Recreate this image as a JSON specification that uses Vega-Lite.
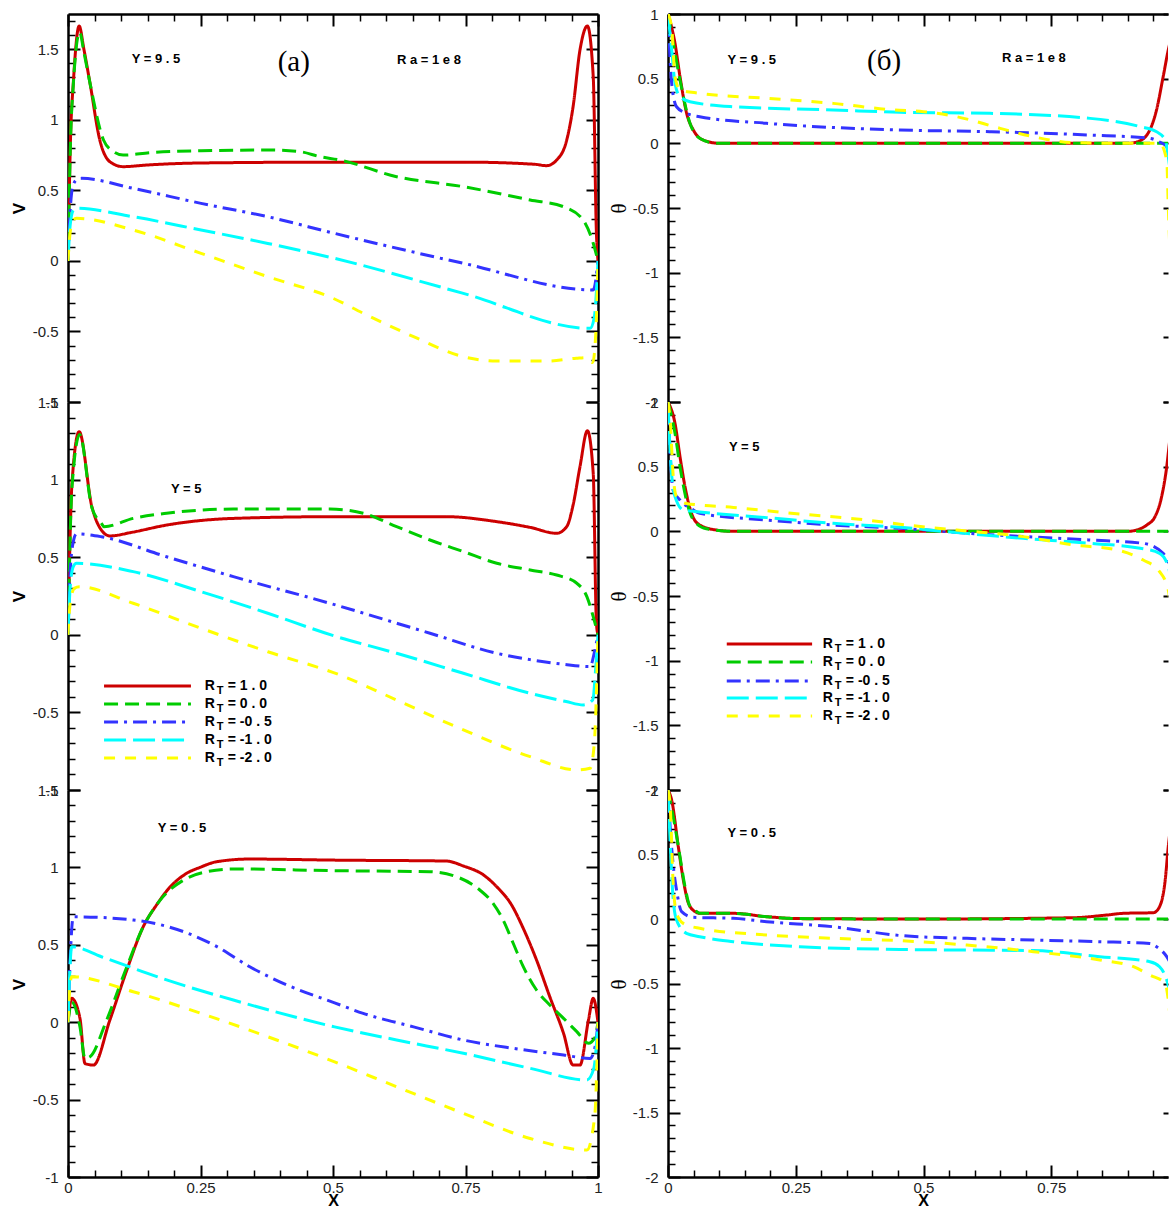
{
"$schema": "https://vega.github.io/schema/vega-lite/v6.json",
"padding": {"left": 10, "top": 7, "right": 0, "bottom": 0},
"autosize": {"type": "pad"},
"background": "white",
"config": {
  "view": {"stroke": null},
  "axis": {"grid": false, "domainColor": "#000", "domainWidth": 2.5, "tickColor": "#000", "labelFont": "Liberation Sans", "labelFontSize": 15, "labelColor": "#222", "titleFont": "Liberation Sans", "titleFontSize": 17, "titleFontWeight": "bold", "titleColor": "#000", "labelOverlap": false, "labelBound": false, "labelFlush": false},
  "text": {"color": "#000"}
},
"datasets": {
"notes": [
{"p":"a1","k":"tag","x":0.166,"y":1.434,"t":"Y = 9 . 5"},
{"p":"a1","k":"tag","x":0.681,"y":1.424,"t":"R a = 1 e 8"},
{"p":"a1","k":"serif","x":0.426,"y":1.413,"t":"(a)"},
{"p":"a2","k":"tag","x":0.223,"y":0.939,"t":"Y = 5"},
{"p":"a3","k":"tag","x":0.215,"y":1.255,"t":"Y = 0 . 5"},
{"p":"b1","k":"tag","x":0.164,"y":0.644,"t":"Y = 9 . 5"},
{"p":"b1","k":"tag","x":0.716,"y":0.66,"t":"R a = 1 e 8"},
{"p":"b1","k":"serif","x":0.423,"y":0.637,"t":"(б)"},
{"p":"b2","k":"tag","x":0.149,"y":0.652,"t":"Y = 5"},
{"p":"b3","k":"tag","x":0.164,"y":0.667,"t":"Y = 0 . 5"}
],
"leg": [
{"p":"a2","s":"1.0","x":0.068,"x2":0.232,"tx":0.258,"y":-0.33,"v":"= 1 . 0"},
{"p":"a2","s":"0.0","x":0.068,"x2":0.232,"tx":0.258,"y":-0.446,"v":"= 0 . 0"},
{"p":"a2","s":"-0.5","x":0.068,"x2":0.232,"tx":0.258,"y":-0.562,"v":"= -0 . 5"},
{"p":"a2","s":"-1.0","x":0.068,"x2":0.232,"tx":0.258,"y":-0.678,"v":"= -1 . 0"},
{"p":"a2","s":"-2.0","x":0.068,"x2":0.232,"tx":0.258,"y":-0.794,"v":"= -2 . 0"},
{"p":"b2","s":"1.0","x":0.115,"x2":0.282,"tx":0.303,"y":-0.871,"v":"= 1 . 0"},
{"p":"b2","s":"0.0","x":0.115,"x2":0.282,"tx":0.303,"y":-1.01,"v":"= 0 . 0"},
{"p":"b2","s":"-0.5","x":0.115,"x2":0.282,"tx":0.303,"y":-1.157,"v":"= -0 . 5"},
{"p":"b2","s":"-1.0","x":0.115,"x2":0.282,"tx":0.303,"y":-1.289,"v":"= -1 . 0"},
{"p":"b2","s":"-2.0","x":0.115,"x2":0.282,"tx":0.303,"y":-1.428,"v":"= -2 . 0"}
],
"curves": [
{"p":"a1","s":"1.0","x":0,"y":0},{"p":"a1","s":"1.0","x":0.005,"y":0.9},{"p":"a1","s":"1.0","x":0.01,"y":1.26},{"p":"a1","s":"1.0","x":0.021,"y":1.665},{"p":"a1","s":"1.0","x":0.03,"y":1.5},{"p":"a1","s":"1.0","x":0.0415,"y":1.26},{"p":"a1","s":"1.0","x":0.06,"y":0.857},{"p":"a1","s":"1.0","x":0.079,"y":0.703},{"p":"a1","s":"1.0","x":0.104,"y":0.668},{"p":"a1","s":"1.0","x":0.15,"y":0.68},{"p":"a1","s":"1.0","x":0.249,"y":0.694},{"p":"a1","s":"1.0","x":0.5,"y":0.7},{"p":"a1","s":"1.0","x":0.75,"y":0.7},{"p":"a1","s":"1.0","x":0.88,"y":0.685},{"p":"a1","s":"1.0","x":0.903,"y":0.675},{"p":"a1","s":"1.0","x":0.922,"y":0.715},{"p":"a1","s":"1.0","x":0.941,"y":0.857},{"p":"a1","s":"1.0","x":0.953,"y":1.093},{"p":"a1","s":"1.0","x":0.966,"y":1.495},{"p":"a1","s":"1.0","x":0.98,"y":1.665},{"p":"a1","s":"1.0","x":0.991,"y":1.306},{"p":"a1","s":"1.0","x":0.997,"y":0.2},{"p":"a1","s":"1.0","x":1,"y":0},
{"p":"a1","s":"0.0","x":0,"y":0},{"p":"a1","s":"0.0","x":0.005,"y":0.88},{"p":"a1","s":"0.0","x":0.01,"y":1.25},{"p":"a1","s":"0.0","x":0.022,"y":1.62},{"p":"a1","s":"0.0","x":0.03,"y":1.48},{"p":"a1","s":"0.0","x":0.0415,"y":1.26},{"p":"a1","s":"0.0","x":0.067,"y":0.857},{"p":"a1","s":"0.0","x":0.086,"y":0.774},{"p":"a1","s":"0.0","x":0.104,"y":0.75},{"p":"a1","s":"0.0","x":0.155,"y":0.767},{"p":"a1","s":"0.0","x":0.251,"y":0.781},{"p":"a1","s":"0.0","x":0.375,"y":0.786},{"p":"a1","s":"0.0","x":0.438,"y":0.774},{"p":"a1","s":"0.0","x":0.475,"y":0.739},{"p":"a1","s":"0.0","x":0.513,"y":0.715},{"p":"a1","s":"0.0","x":0.62,"y":0.597},{"p":"a1","s":"0.0","x":0.746,"y":0.526},{"p":"a1","s":"0.0","x":0.872,"y":0.432},{"p":"a1","s":"0.0","x":0.935,"y":0.384},{"p":"a1","s":"0.0","x":0.972,"y":0.29},{"p":"a1","s":"0.0","x":0.991,"y":0.125},{"p":"a1","s":"0.0","x":1,"y":0},
{"p":"a1","s":"-0.5","x":0,"y":0},{"p":"a1","s":"-0.5","x":0.004,"y":0.35},{"p":"a1","s":"-0.5","x":0.01,"y":0.54},{"p":"a1","s":"-0.5","x":0.018,"y":0.58},{"p":"a1","s":"-0.5","x":0.0255,"y":0.585},{"p":"a1","s":"-0.5","x":0.123,"y":0.514},{"p":"a1","s":"-0.5","x":0.251,"y":0.408},{"p":"a1","s":"-0.5","x":0.377,"y":0.313},{"p":"a1","s":"-0.5","x":0.503,"y":0.195},{"p":"a1","s":"-0.5","x":0.746,"y":-0.017},{"p":"a1","s":"-0.5","x":0.991,"y":-0.206},{"p":"a1","s":"-0.5","x":1,"y":0},
{"p":"a1","s":"-1.0","x":0,"y":0},{"p":"a1","s":"-1.0","x":0.004,"y":0.25},{"p":"a1","s":"-1.0","x":0.01,"y":0.36},{"p":"a1","s":"-1.0","x":0.016,"y":0.373},{"p":"a1","s":"-1.0","x":0.123,"y":0.313},{"p":"a1","s":"-1.0","x":0.251,"y":0.219},{"p":"a1","s":"-1.0","x":0.377,"y":0.124},{"p":"a1","s":"-1.0","x":0.503,"y":0.018},{"p":"a1","s":"-1.0","x":0.746,"y":-0.23},{"p":"a1","s":"-1.0","x":0.985,"y":-0.478},{"p":"a1","s":"-1.0","x":0.993,"y":-0.4},{"p":"a1","s":"-1.0","x":1,"y":0},
{"p":"a1","s":"-2.0","x":0,"y":0},{"p":"a1","s":"-2.0","x":0.004,"y":0.2},{"p":"a1","s":"-2.0","x":0.01,"y":0.29},{"p":"a1","s":"-2.0","x":0.016,"y":0.302},{"p":"a1","s":"-2.0","x":0.123,"y":0.219},{"p":"a1","s":"-2.0","x":0.251,"y":0.054},{"p":"a1","s":"-2.0","x":0.377,"y":-0.112},{"p":"a1","s":"-2.0","x":0.503,"y":-0.27},{"p":"a1","s":"-2.0","x":0.557,"y":-0.371},{"p":"a1","s":"-2.0","x":0.652,"y":-0.537},{"p":"a1","s":"-2.0","x":0.746,"y":-0.679},{"p":"a1","s":"-2.0","x":0.809,"y":-0.71},{"p":"a1","s":"-2.0","x":0.903,"y":-0.71},{"p":"a1","s":"-2.0","x":0.959,"y":-0.69},{"p":"a1","s":"-2.0","x":0.978,"y":-0.685},{"p":"a1","s":"-2.0","x":0.99,"y":-0.72},{"p":"a1","s":"-2.0","x":0.996,"y":-0.5},{"p":"a1","s":"-2.0","x":1,"y":0},

{"p":"a2","s":"1.0","x":0,"y":0},{"p":"a2","s":"1.0","x":0.0075,"y":0.976},{"p":"a2","s":"1.0","x":0.021,"y":1.309},{"p":"a2","s":"1.0","x":0.045,"y":0.826},{"p":"a2","s":"1.0","x":0.063,"y":0.675},{"p":"a2","s":"1.0","x":0.079,"y":0.637},{"p":"a2","s":"1.0","x":0.12,"y":0.66},{"p":"a2","s":"1.0","x":0.186,"y":0.707},{"p":"a2","s":"1.0","x":0.312,"y":0.75},{"p":"a2","s":"1.0","x":0.503,"y":0.761},{"p":"a2","s":"1.0","x":0.714,"y":0.761},{"p":"a2","s":"1.0","x":0.809,"y":0.729},{"p":"a2","s":"1.0","x":0.872,"y":0.692},{"p":"a2","s":"1.0","x":0.922,"y":0.654},{"p":"a2","s":"1.0","x":0.941,"y":0.697},{"p":"a2","s":"1.0","x":0.953,"y":0.836},{"p":"a2","s":"1.0","x":0.966,"y":1.083},{"p":"a2","s":"1.0","x":0.98,"y":1.315},{"p":"a2","s":"1.0","x":0.991,"y":1.04},{"p":"a2","s":"1.0","x":0.997,"y":0.076},{"p":"a2","s":"1.0","x":1,"y":0},
{"p":"a2","s":"0.0","x":0,"y":0},{"p":"a2","s":"0.0","x":0.0075,"y":0.95},{"p":"a2","s":"0.0","x":0.022,"y":1.29},{"p":"a2","s":"0.0","x":0.045,"y":0.82},{"p":"a2","s":"0.0","x":0.063,"y":0.718},{"p":"a2","s":"0.0","x":0.068,"y":0.697},{"p":"a2","s":"0.0","x":0.123,"y":0.75},{"p":"a2","s":"0.0","x":0.186,"y":0.783},{"p":"a2","s":"0.0","x":0.312,"y":0.81},{"p":"a2","s":"0.0","x":0.494,"y":0.81},{"p":"a2","s":"0.0","x":0.557,"y":0.783},{"p":"a2","s":"0.0","x":0.62,"y":0.697},{"p":"a2","s":"0.0","x":0.683,"y":0.611},{"p":"a2","s":"0.0","x":0.746,"y":0.536},{"p":"a2","s":"0.0","x":0.809,"y":0.461},{"p":"a2","s":"0.0","x":0.872,"y":0.418},{"p":"a2","s":"0.0","x":0.922,"y":0.385},{"p":"a2","s":"0.0","x":0.96,"y":0.332},{"p":"a2","s":"0.0","x":0.979,"y":0.246},{"p":"a2","s":"0.0","x":0.991,"y":0.117},{"p":"a2","s":"0.0","x":1,"y":0},
{"p":"a2","s":"-0.5","x":0,"y":0},{"p":"a2","s":"-0.5","x":0.004,"y":0.4},{"p":"a2","s":"-0.5","x":0.01,"y":0.6},{"p":"a2","s":"-0.5","x":0.016,"y":0.65},{"p":"a2","s":"-0.5","x":0.063,"y":0.632},{"p":"a2","s":"-0.5","x":0.186,"y":0.503},{"p":"a2","s":"-0.5","x":0.312,"y":0.375},{"p":"a2","s":"-0.5","x":0.494,"y":0.203},{"p":"a2","s":"-0.5","x":0.683,"y":0.01},{"p":"a2","s":"-0.5","x":0.809,"y":-0.119},{"p":"a2","s":"-0.5","x":0.872,"y":-0.16},{"p":"a2","s":"-0.5","x":0.935,"y":-0.19},{"p":"a2","s":"-0.5","x":0.985,"y":-0.205},{"p":"a2","s":"-0.5","x":0.994,"y":-0.1},{"p":"a2","s":"-0.5","x":1,"y":0},
{"p":"a2","s":"-1.0","x":0,"y":0},{"p":"a2","s":"-1.0","x":0.004,"y":0.3},{"p":"a2","s":"-1.0","x":0.01,"y":0.44},{"p":"a2","s":"-1.0","x":0.016,"y":0.461},{"p":"a2","s":"-1.0","x":0.123,"y":0.407},{"p":"a2","s":"-1.0","x":0.251,"y":0.278},{"p":"a2","s":"-1.0","x":0.377,"y":0.139},{"p":"a2","s":"-1.0","x":0.503,"y":-0.008},{"p":"a2","s":"-1.0","x":0.62,"y":-0.119},{"p":"a2","s":"-1.0","x":0.746,"y":-0.248},{"p":"a2","s":"-1.0","x":0.872,"y":-0.377},{"p":"a2","s":"-1.0","x":0.94,"y":-0.43},{"p":"a2","s":"-1.0","x":0.972,"y":-0.452},{"p":"a2","s":"-1.0","x":0.99,"y":-0.42},{"p":"a2","s":"-1.0","x":0.996,"y":-0.2},{"p":"a2","s":"-1.0","x":1,"y":0},
{"p":"a2","s":"-2.0","x":0,"y":0},{"p":"a2","s":"-2.0","x":0.004,"y":0.2},{"p":"a2","s":"-2.0","x":0.012,"y":0.3},{"p":"a2","s":"-2.0","x":0.0214,"y":0.31},{"p":"a2","s":"-2.0","x":0.123,"y":0.203},{"p":"a2","s":"-2.0","x":0.251,"y":0.042},{"p":"a2","s":"-2.0","x":0.377,"y":-0.109},{"p":"a2","s":"-2.0","x":0.513,"y":-0.259},{"p":"a2","s":"-2.0","x":0.62,"y":-0.42},{"p":"a2","s":"-2.0","x":0.746,"y":-0.613},{"p":"a2","s":"-2.0","x":0.872,"y":-0.785},{"p":"a2","s":"-2.0","x":0.96,"y":-0.871},{"p":"a2","s":"-2.0","x":0.985,"y":-0.86},{"p":"a2","s":"-2.0","x":0.993,"y":-0.7},{"p":"a2","s":"-2.0","x":1,"y":0},

{"p":"a3","s":"1.0","x":0,"y":0},{"p":"a3","s":"1.0","x":0.007,"y":0.154},{"p":"a3","s":"1.0","x":0.0226,"y":0.024},{"p":"a3","s":"1.0","x":0.032,"y":-0.267},{"p":"a3","s":"1.0","x":0.048,"y":-0.277},{"p":"a3","s":"1.0","x":0.079,"y":0.014},{"p":"a3","s":"1.0","x":0.111,"y":0.337},{"p":"a3","s":"1.0","x":0.142,"y":0.617},{"p":"a3","s":"1.0","x":0.167,"y":0.757},{"p":"a3","s":"1.0","x":0.192,"y":0.871},{"p":"a3","s":"1.0","x":0.224,"y":0.962},{"p":"a3","s":"1.0","x":0.249,"y":1.0},{"p":"a3","s":"1.0","x":0.281,"y":1.037},{"p":"a3","s":"1.0","x":0.343,"y":1.054},{"p":"a3","s":"1.0","x":0.503,"y":1.047},{"p":"a3","s":"1.0","x":0.714,"y":1.041},{"p":"a3","s":"1.0","x":0.746,"y":1.009},{"p":"a3","s":"1.0","x":0.784,"y":0.951},{"p":"a3","s":"1.0","x":0.809,"y":0.875},{"p":"a3","s":"1.0","x":0.837,"y":0.757},{"p":"a3","s":"1.0","x":0.859,"y":0.606},{"p":"a3","s":"1.0","x":0.884,"y":0.402},{"p":"a3","s":"1.0","x":0.909,"y":0.165},{"p":"a3","s":"1.0","x":0.935,"y":-0.072},{"p":"a3","s":"1.0","x":0.953,"y":-0.277},{"p":"a3","s":"1.0","x":0.966,"y":-0.277},{"p":"a3","s":"1.0","x":0.982,"y":0.014},{"p":"a3","s":"1.0","x":0.991,"y":0.154},{"p":"a3","s":"1.0","x":1,"y":0},
{"p":"a3","s":"0.0","x":0,"y":0},{"p":"a3","s":"0.0","x":0.007,"y":0.13},{"p":"a3","s":"0.0","x":0.0226,"y":-0.03},{"p":"a3","s":"0.0","x":0.032,"y":-0.234},{"p":"a3","s":"0.0","x":0.0415,"y":-0.223},{"p":"a3","s":"0.0","x":0.073,"y":0.014},{"p":"a3","s":"0.0","x":0.111,"y":0.358},{"p":"a3","s":"0.0","x":0.142,"y":0.617},{"p":"a3","s":"0.0","x":0.174,"y":0.789},{"p":"a3","s":"0.0","x":0.218,"y":0.918},{"p":"a3","s":"0.0","x":0.262,"y":0.972},{"p":"a3","s":"0.0","x":0.312,"y":0.99},{"p":"a3","s":"0.0","x":0.503,"y":0.979},{"p":"a3","s":"0.0","x":0.683,"y":0.972},{"p":"a3","s":"0.0","x":0.733,"y":0.94},{"p":"a3","s":"0.0","x":0.777,"y":0.854},{"p":"a3","s":"0.0","x":0.802,"y":0.768},{"p":"a3","s":"0.0","x":0.821,"y":0.66},{"p":"a3","s":"0.0","x":0.84,"y":0.51},{"p":"a3","s":"0.0","x":0.859,"y":0.359},{"p":"a3","s":"0.0","x":0.884,"y":0.208},{"p":"a3","s":"0.0","x":0.909,"y":0.111},{"p":"a3","s":"0.0","x":0.935,"y":0.025},{"p":"a3","s":"0.0","x":0.96,"y":-0.061},{"p":"a3","s":"0.0","x":0.982,"y":-0.136},{"p":"a3","s":"0.0","x":0.994,"y":-0.1},{"p":"a3","s":"0.0","x":1,"y":0},
{"p":"a3","s":"-0.5","x":0,"y":0},{"p":"a3","s":"-0.5","x":0.004,"y":0.4},{"p":"a3","s":"-0.5","x":0.01,"y":0.681},{"p":"a3","s":"-0.5","x":0.123,"y":0.66},{"p":"a3","s":"-0.5","x":0.218,"y":0.585},{"p":"a3","s":"-0.5","x":0.281,"y":0.488},{"p":"a3","s":"-0.5","x":0.343,"y":0.358},{"p":"a3","s":"-0.5","x":0.406,"y":0.251},{"p":"a3","s":"-0.5","x":0.503,"y":0.125},{"p":"a3","s":"-0.5","x":0.557,"y":0.057},{"p":"a3","s":"-0.5","x":0.652,"y":-0.03},{"p":"a3","s":"-0.5","x":0.746,"y":-0.115},{"p":"a3","s":"-0.5","x":0.84,"y":-0.169},{"p":"a3","s":"-0.5","x":0.935,"y":-0.212},{"p":"a3","s":"-0.5","x":0.985,"y":-0.234},{"p":"a3","s":"-0.5","x":0.995,"y":-0.15},{"p":"a3","s":"-0.5","x":1,"y":0},
{"p":"a3","s":"-1.0","x":0,"y":0},{"p":"a3","s":"-1.0","x":0.003,"y":0.3},{"p":"a3","s":"-1.0","x":0.007,"y":0.488},{"p":"a3","s":"-1.0","x":0.063,"y":0.423},{"p":"a3","s":"-1.0","x":0.186,"y":0.273},{"p":"a3","s":"-1.0","x":0.312,"y":0.143},{"p":"a3","s":"-1.0","x":0.503,"y":-0.03},{"p":"a3","s":"-1.0","x":0.62,"y":-0.115},{"p":"a3","s":"-1.0","x":0.746,"y":-0.201},{"p":"a3","s":"-1.0","x":0.872,"y":-0.298},{"p":"a3","s":"-1.0","x":0.979,"y":-0.373},{"p":"a3","s":"-1.0","x":0.992,"y":-0.3},{"p":"a3","s":"-1.0","x":1,"y":0},
{"p":"a3","s":"-2.0","x":0,"y":0},{"p":"a3","s":"-2.0","x":0.003,"y":0.2},{"p":"a3","s":"-2.0","x":0.007,"y":0.294},{"p":"a3","s":"-2.0","x":0.123,"y":0.197},{"p":"a3","s":"-2.0","x":0.251,"y":0.057},{"p":"a3","s":"-2.0","x":0.377,"y":-0.094},{"p":"a3","s":"-2.0","x":0.503,"y":-0.256},{"p":"a3","s":"-2.0","x":0.62,"y":-0.417},{"p":"a3","s":"-2.0","x":0.746,"y":-0.589},{"p":"a3","s":"-2.0","x":0.872,"y":-0.751},{"p":"a3","s":"-2.0","x":0.979,"y":-0.826},{"p":"a3","s":"-2.0","x":0.994,"y":-0.6},{"p":"a3","s":"-2.0","x":1,"y":0},

{"p":"b1","s":"1.0","x":0,"y":1},{"p":"b1","s":"1.0","x":0.0137,"y":0.773},{"p":"b1","s":"1.0","x":0.0235,"y":0.515},{"p":"b1","s":"1.0","x":0.0365,"y":0.232},{"p":"b1","s":"1.0","x":0.0496,"y":0.103},{"p":"b1","s":"1.0","x":0.0685,"y":0.026},{"p":"b1","s":"1.0","x":0.101,"y":0},{"p":"b1","s":"1.0","x":0.5,"y":0},{"p":"b1","s":"1.0","x":0.9,"y":0},{"p":"b1","s":"1.0","x":0.917,"y":0.01},{"p":"b1","s":"1.0","x":0.937,"y":0.064},{"p":"b1","s":"1.0","x":0.956,"y":0.258},{"p":"b1","s":"1.0","x":0.969,"y":0.515},{"p":"b1","s":"1.0","x":0.979,"y":0.722},{"p":"b1","s":"1.0","x":1,"y":1},
{"p":"b1","s":"0.0","x":0,"y":1},{"p":"b1","s":"0.0","x":0.01,"y":0.78},{"p":"b1","s":"0.0","x":0.0235,"y":0.49},{"p":"b1","s":"0.0","x":0.043,"y":0.155},{"p":"b1","s":"0.0","x":0.062,"y":0.04},{"p":"b1","s":"0.0","x":0.095,"y":0},{"p":"b1","s":"0.0","x":0.5,"y":0},{"p":"b1","s":"0.0","x":1,"y":0},
{"p":"b1","s":"-0.5","x":0,"y":1},{"p":"b1","s":"-0.5","x":0.0072,"y":0.464},{"p":"b1","s":"-0.5","x":0.0167,"y":0.283},{"p":"b1","s":"-0.5","x":0.036,"y":0.232},{"p":"b1","s":"-0.5","x":0.062,"y":0.206},{"p":"b1","s":"-0.5","x":0.193,"y":0.155},{"p":"b1","s":"-0.5","x":0.454,"y":0.103},{"p":"b1","s":"-0.5","x":0.63,"y":0.09},{"p":"b1","s":"-0.5","x":0.826,"y":0.064},{"p":"b1","s":"-0.5","x":0.943,"y":0.039},{"p":"b1","s":"-0.5","x":0.962,"y":0.01},{"p":"b1","s":"-0.5","x":0.975,"y":-0.02},{"p":"b1","s":"-0.5","x":1,"y":-0.5},
{"p":"b1","s":"-1.0","x":0,"y":1},{"p":"b1","s":"-1.0","x":0.0072,"y":0.722},{"p":"b1","s":"-1.0","x":0.0137,"y":0.464},{"p":"b1","s":"-1.0","x":0.0235,"y":0.36},{"p":"b1","s":"-1.0","x":0.043,"y":0.322},{"p":"b1","s":"-1.0","x":0.128,"y":0.283},{"p":"b1","s":"-1.0","x":0.323,"y":0.258},{"p":"b1","s":"-1.0","x":0.454,"y":0.24},{"p":"b1","s":"-1.0","x":0.63,"y":0.232},{"p":"b1","s":"-1.0","x":0.826,"y":0.193},{"p":"b1","s":"-1.0","x":0.924,"y":0.129},{"p":"b1","s":"-1.0","x":0.956,"y":0.09},{"p":"b1","s":"-1.0","x":0.973,"y":0.026},{"p":"b1","s":"-1.0","x":0.979,"y":-0.103},{"p":"b1","s":"-1.0","x":1,"y":-1},
{"p":"b1","s":"-2.0","x":0,"y":1},{"p":"b1","s":"-2.0","x":0.007,"y":0.9},{"p":"b1","s":"-2.0","x":0.0137,"y":0.515},{"p":"b1","s":"-2.0","x":0.0235,"y":0.412},{"p":"b1","s":"-2.0","x":0.062,"y":0.387},{"p":"b1","s":"-2.0","x":0.193,"y":0.348},{"p":"b1","s":"-2.0","x":0.323,"y":0.309},{"p":"b1","s":"-2.0","x":0.441,"y":0.258},{"p":"b1","s":"-2.0","x":0.5,"y":0.245},{"p":"b1","s":"-2.0","x":0.565,"y":0.206},{"p":"b1","s":"-2.0","x":0.65,"y":0.116},{"p":"b1","s":"-2.0","x":0.715,"y":0.051},{"p":"b1","s":"-2.0","x":0.793,"y":0.005},{"p":"b1","s":"-2.0","x":0.89,"y":0},{"p":"b1","s":"-2.0","x":0.962,"y":0},{"p":"b1","s":"-2.0","x":0.976,"y":-0.129},{"p":"b1","s":"-2.0","x":0.979,"y":-0.49},{"p":"b1","s":"-2.0","x":1,"y":-2},

{"p":"b2","s":"1.0","x":0,"y":1},{"p":"b2","s":"1.0","x":0.0137,"y":0.835},{"p":"b2","s":"1.0","x":0.0235,"y":0.577},{"p":"b2","s":"1.0","x":0.0333,"y":0.345},{"p":"b2","s":"1.0","x":0.046,"y":0.139},{"p":"b2","s":"1.0","x":0.062,"y":0.049},{"p":"b2","s":"1.0","x":0.095,"y":0.01},{"p":"b2","s":"1.0","x":0.128,"y":0},{"p":"b2","s":"1.0","x":0.5,"y":0},{"p":"b2","s":"1.0","x":0.9,"y":0},{"p":"b2","s":"1.0","x":0.917,"y":0.01},{"p":"b2","s":"1.0","x":0.937,"y":0.049},{"p":"b2","s":"1.0","x":0.953,"y":0.113},{"p":"b2","s":"1.0","x":0.966,"y":0.268},{"p":"b2","s":"1.0","x":0.976,"y":0.5},{"p":"b2","s":"1.0","x":0.982,"y":0.706},{"p":"b2","s":"1.0","x":1,"y":1},
{"p":"b2","s":"0.0","x":0,"y":1},{"p":"b2","s":"0.0","x":0.0137,"y":0.758},{"p":"b2","s":"0.0","x":0.0235,"y":0.5},{"p":"b2","s":"0.0","x":0.036,"y":0.242},{"p":"b2","s":"0.0","x":0.0496,"y":0.088},{"p":"b2","s":"0.0","x":0.075,"y":0.02},{"p":"b2","s":"0.0","x":0.128,"y":0},{"p":"b2","s":"0.0","x":0.5,"y":0},{"p":"b2","s":"0.0","x":1,"y":0},
{"p":"b2","s":"-0.5","x":0,"y":1},{"p":"b2","s":"-0.5","x":0.0046,"y":0.577},{"p":"b2","s":"-0.5","x":0.0098,"y":0.32},{"p":"b2","s":"-0.5","x":0.0235,"y":0.242},{"p":"b2","s":"-0.5","x":0.0496,"y":0.165},{"p":"b2","s":"-0.5","x":0.062,"y":0.139},{"p":"b2","s":"-0.5","x":0.193,"y":0.088},{"p":"b2","s":"-0.5","x":0.323,"y":0.049},{"p":"b2","s":"-0.5","x":0.454,"y":0.023},{"p":"b2","s":"-0.5","x":0.63,"y":-0.026},{"p":"b2","s":"-0.5","x":0.826,"y":-0.067},{"p":"b2","s":"-0.5","x":0.93,"y":-0.093},{"p":"b2","s":"-0.5","x":0.969,"y":-0.17},{"p":"b2","s":"-0.5","x":1,"y":-0.5},
{"p":"b2","s":"-1.0","x":0,"y":1},{"p":"b2","s":"-1.0","x":0.0046,"y":0.58},{"p":"b2","s":"-1.0","x":0.0137,"y":0.268},{"p":"b2","s":"-1.0","x":0.03,"y":0.165},{"p":"b2","s":"-1.0","x":0.062,"y":0.15},{"p":"b2","s":"-1.0","x":0.193,"y":0.106},{"p":"b2","s":"-1.0","x":0.323,"y":0.062},{"p":"b2","s":"-1.0","x":0.454,"y":0.031},{"p":"b2","s":"-1.0","x":0.565,"y":-0.01},{"p":"b2","s":"-1.0","x":0.695,"y":-0.054},{"p":"b2","s":"-1.0","x":0.826,"y":-0.093},{"p":"b2","s":"-1.0","x":0.924,"y":-0.131},{"p":"b2","s":"-1.0","x":0.962,"y":-0.17},{"p":"b2","s":"-1.0","x":0.979,"y":-0.273},{"p":"b2","s":"-1.0","x":1,"y":-1},
{"p":"b2","s":"-2.0","x":0,"y":1},{"p":"b2","s":"-2.0","x":0.0046,"y":0.835},{"p":"b2","s":"-2.0","x":0.0098,"y":0.449},{"p":"b2","s":"-2.0","x":0.0167,"y":0.268},{"p":"b2","s":"-2.0","x":0.036,"y":0.216},{"p":"b2","s":"-2.0","x":0.128,"y":0.185},{"p":"b2","s":"-2.0","x":0.258,"y":0.134},{"p":"b2","s":"-2.0","x":0.388,"y":0.088},{"p":"b2","s":"-2.0","x":0.454,"y":0.055},{"p":"b2","s":"-2.0","x":0.565,"y":0.01},{"p":"b2","s":"-2.0","x":0.695,"y":-0.041},{"p":"b2","s":"-2.0","x":0.793,"y":-0.105},{"p":"b2","s":"-2.0","x":0.878,"y":-0.144},{"p":"b2","s":"-2.0","x":0.93,"y":-0.222},{"p":"b2","s":"-2.0","x":0.962,"y":-0.312},{"p":"b2","s":"-2.0","x":0.979,"y":-0.454},{"p":"b2","s":"-2.0","x":1,"y":-2},

{"p":"b3","s":"1.0","x":0,"y":1},{"p":"b3","s":"1.0","x":0.0072,"y":0.922},{"p":"b3","s":"1.0","x":0.0202,"y":0.56},{"p":"b3","s":"1.0","x":0.03,"y":0.302},{"p":"b3","s":"1.0","x":0.04,"y":0.122},{"p":"b3","s":"1.0","x":0.053,"y":0.057},{"p":"b3","s":"1.0","x":0.062,"y":0.044},{"p":"b3","s":"1.0","x":0.128,"y":0.044},{"p":"b3","s":"1.0","x":0.193,"y":0.018},{"p":"b3","s":"1.0","x":0.258,"y":0.003},{"p":"b3","s":"1.0","x":0.5,"y":0},{"p":"b3","s":"1.0","x":0.793,"y":0.01},{"p":"b3","s":"1.0","x":0.859,"y":0.031},{"p":"b3","s":"1.0","x":0.891,"y":0.044},{"p":"b3","s":"1.0","x":0.95,"y":0.049},{"p":"b3","s":"1.0","x":0.962,"y":0.096},{"p":"b3","s":"1.0","x":0.973,"y":0.302},{"p":"b3","s":"1.0","x":0.979,"y":0.56},{"p":"b3","s":"1.0","x":1,"y":1},
{"p":"b3","s":"0.0","x":0,"y":1},{"p":"b3","s":"0.0","x":0.0137,"y":0.716},{"p":"b3","s":"0.0","x":0.0235,"y":0.483},{"p":"b3","s":"0.0","x":0.0333,"y":0.25},{"p":"b3","s":"0.0","x":0.0431,"y":0.096},{"p":"b3","s":"0.0","x":0.0561,"y":0.057},{"p":"b3","s":"0.0","x":0.062,"y":0.044},{"p":"b3","s":"0.0","x":0.128,"y":0.044},{"p":"b3","s":"0.0","x":0.193,"y":0.018},{"p":"b3","s":"0.0","x":0.258,"y":0.003},{"p":"b3","s":"0.0","x":0.5,"y":0},{"p":"b3","s":"0.0","x":1,"y":0},
{"p":"b3","s":"-0.5","x":0,"y":1},{"p":"b3","s":"-0.5","x":0.0046,"y":0.69},{"p":"b3","s":"-0.5","x":0.0098,"y":0.432},{"p":"b3","s":"-0.5","x":0.0167,"y":0.225},{"p":"b3","s":"-0.5","x":0.0267,"y":0.057},{"p":"b3","s":"-0.5","x":0.0496,"y":0.013},{"p":"b3","s":"-0.5","x":0.128,"y":0.005},{"p":"b3","s":"-0.5","x":0.193,"y":-0.021},{"p":"b3","s":"-0.5","x":0.323,"y":-0.06},{"p":"b3","s":"-0.5","x":0.454,"y":-0.128},{"p":"b3","s":"-0.5","x":0.585,"y":-0.15},{"p":"b3","s":"-0.5","x":0.715,"y":-0.163},{"p":"b3","s":"-0.5","x":0.845,"y":-0.176},{"p":"b3","s":"-0.5","x":0.943,"y":-0.189},{"p":"b3","s":"-0.5","x":0.956,"y":-0.215},{"p":"b3","s":"-0.5","x":0.976,"y":-0.292},{"p":"b3","s":"-0.5","x":1,"y":-0.5},
{"p":"b3","s":"-1.0","x":0,"y":1},{"p":"b3","s":"-1.0","x":0.0046,"y":0.56},{"p":"b3","s":"-1.0","x":0.0098,"y":0.173},{"p":"b3","s":"-1.0","x":0.0167,"y":-0.008},{"p":"b3","s":"-1.0","x":0.036,"y":-0.111},{"p":"b3","s":"-1.0","x":0.062,"y":-0.137},{"p":"b3","s":"-1.0","x":0.128,"y":-0.176},{"p":"b3","s":"-1.0","x":0.258,"y":-0.215},{"p":"b3","s":"-1.0","x":0.454,"y":-0.236},{"p":"b3","s":"-1.0","x":0.715,"y":-0.245},{"p":"b3","s":"-1.0","x":0.845,"y":-0.292},{"p":"b3","s":"-1.0","x":0.943,"y":-0.331},{"p":"b3","s":"-1.0","x":0.962,"y":-0.37},{"p":"b3","s":"-1.0","x":0.976,"y":-0.473},{"p":"b3","s":"-1.0","x":1,"y":-1},
{"p":"b3","s":"-2.0","x":0,"y":1},{"p":"b3","s":"-2.0","x":0.0046,"y":0.85},{"p":"b3","s":"-2.0","x":0.0098,"y":0.302},{"p":"b3","s":"-2.0","x":0.0167,"y":0.044},{"p":"b3","s":"-2.0","x":0.03,"y":-0.034},{"p":"b3","s":"-2.0","x":0.062,"y":-0.072},{"p":"b3","s":"-2.0","x":0.193,"y":-0.124},{"p":"b3","s":"-2.0","x":0.323,"y":-0.15},{"p":"b3","s":"-2.0","x":0.454,"y":-0.168},{"p":"b3","s":"-2.0","x":0.585,"y":-0.202},{"p":"b3","s":"-2.0","x":0.715,"y":-0.253},{"p":"b3","s":"-2.0","x":0.845,"y":-0.318},{"p":"b3","s":"-2.0","x":0.911,"y":-0.37},{"p":"b3","s":"-2.0","x":0.943,"y":-0.434},{"p":"b3","s":"-2.0","x":0.973,"y":-0.499},{"p":"b3","s":"-2.0","x":0.979,"y":-0.628},{"p":"b3","s":"-2.0","x":1,"y":-2}
]
},
"spacing": 5,
"hconcat": [
{"vconcat": [
 {"width": 530, "height": 388,
  "resolve": {"axis": {"x": "independent", "y": "independent"}},
  "layer": [
   {"data": {"name": "curves"}, "transform": [{"filter": "datum.p === 'a1'"}],
    "mark": {"type": "line", "clip": true, "strokeWidth": 3, "interpolate": "monotone"},
    "encoding": {
     "x": {"field": "x", "type": "quantitative", "scale": {"domain": [0, 1], "nice": false, "zero": false},
       "axis": {"orient": "top", "values": [0,0.05,0.1,0.15,0.2,0.25,0.3,0.35,0.4,0.45,0.5,0.55,0.6,0.65,0.7,0.75,0.8,0.85,0.9,0.95,1], "tickSize": {"condition": {"test": "datum.value % 0.25 === 0", "value": -12}, "value": -7}, "tickWidth": {"condition": {"test": "datum.value % 0.25 === 0", "value": 2}, "value": 1.5}, "labels": false, "title": null}},
     "y": {"field": "y", "type": "quantitative", "scale": {"domain": [-1, 1.75], "nice": false, "zero": false},
       "axis": {"orient": "left", "values": [-1,-0.9,-0.8,-0.7,-0.6,-0.5,-0.4,-0.3,-0.2,-0.1,0,0.1,0.2,0.3,0.4,0.5,0.6,0.7,0.8,0.9,1,1.1,1.2,1.3,1.4,1.5,1.6,1.7], "tickSize": {"condition": {"test": "datum.value % 0.5 === 0", "value": -12}, "value": -7}, "tickWidth": {"condition": {"test": "datum.value % 0.5 === 0", "value": 2}, "value": 1.5}, "labelExpr": "datum.value % 0.5 === 0 ? '' + datum.value : ''", "labelPadding": 22, "title": "V", "titleX": -49, "titleY": 194, "titleBaseline": "middle"}},
     "color": {"field": "s", "type": "nominal", "scale": {"domain": ["1.0","0.0","-0.5","-1.0","-2.0"], "range": ["#CC0000","#00CC00","#3333FF","#00FFFF","#FFFF00"]}, "legend": null},
     "strokeDash": {"field": "s", "type": "nominal", "scale": {"domain": ["1.0","0.0","-0.5","-1.0","-2.0"], "range": [[1,0],[14,7],[14,6,3,6],[22,7],[11,10]]}, "legend": null}
    }},
   {"data": {"name": "notes"}, "transform": [{"filter": "datum.p === 'a1' && datum.k === 'tag'"}],
    "mark": {"type": "text", "font": "Liberation Sans", "fontWeight": "bold", "fontSize": 13},
    "encoding": {
     "x": {"field": "x", "type": "quantitative", "scale": {"domain": [0, 1], "nice": false, "zero": false}, "axis": null},
     "y": {"field": "y", "type": "quantitative", "scale": {"domain": [-1, 1.75], "nice": false, "zero": false},
       "axis": {"orient": "right", "values": [-1,-0.9,-0.8,-0.7,-0.6,-0.5,-0.4,-0.3,-0.2,-0.1,0,0.1,0.2,0.3,0.4,0.5,0.6,0.7,0.8,0.9,1,1.1,1.2,1.3,1.4,1.5,1.6,1.7], "tickSize": {"condition": {"test": "datum.value % 0.5 === 0", "value": -12}, "value": -7}, "tickWidth": {"condition": {"test": "datum.value % 0.5 === 0", "value": 2}, "value": 1.5}, "labels": false, "title": null}},
     "text": {"field": "t"}
    }},
   {"data": {"name": "notes"}, "transform": [{"filter": "datum.p === 'a1' && datum.k === 'serif'"}],
    "mark": {"type": "text", "font": "Liberation Serif", "fontSize": 29},
    "encoding": {
     "x": {"field": "x", "type": "quantitative", "scale": {"domain": [0, 1], "nice": false, "zero": false}, "axis": null},
     "y": {"field": "y", "type": "quantitative", "scale": {"domain": [-1, 1.75], "nice": false, "zero": false}, "axis": null},
     "text": {"field": "t"}
    }}
  ]},
 {"width": 530, "height": 388,
  "resolve": {"axis": {"x": "independent", "y": "independent"}},
  "layer": [
   {"data": {"name": "curves"}, "transform": [{"filter": "datum.p === 'a2'"}],
    "mark": {"type": "line", "clip": true, "strokeWidth": 3, "interpolate": "monotone"},
    "encoding": {
     "x": {"field": "x", "type": "quantitative", "scale": {"domain": [0, 1], "nice": false, "zero": false}, "axis": null},
     "y": {"field": "y", "type": "quantitative", "scale": {"domain": [-1, 1.5], "nice": false, "zero": false},
       "axis": {"orient": "left", "values": [-1,-0.9,-0.8,-0.7,-0.6,-0.5,-0.4,-0.3,-0.2,-0.1,0,0.1,0.2,0.3,0.4,0.5,0.6,0.7,0.8,0.9,1,1.1,1.2,1.3,1.4,1.5], "tickSize": {"condition": {"test": "datum.value % 0.5 === 0", "value": -12}, "value": -7}, "tickWidth": {"condition": {"test": "datum.value % 0.5 === 0", "value": 2}, "value": 1.5}, "labelExpr": "datum.value % 0.5 === 0 ? '' + datum.value : ''", "labelPadding": 22, "title": "V", "titleX": -49, "titleY": 194, "titleBaseline": "middle"}},
     "color": {"field": "s", "type": "nominal", "scale": {"domain": ["1.0","0.0","-0.5","-1.0","-2.0"], "range": ["#CC0000","#00CC00","#3333FF","#00FFFF","#FFFF00"]}, "legend": null},
     "strokeDash": {"field": "s", "type": "nominal", "scale": {"domain": ["1.0","0.0","-0.5","-1.0","-2.0"], "range": [[1,0],[14,7],[14,6,3,6],[22,7],[11,10]]}, "legend": null}
    }},
   {"data": {"name": "notes"}, "transform": [{"filter": "datum.p === 'a2' && datum.k === 'tag'"}],
    "mark": {"type": "text", "font": "Liberation Sans", "fontWeight": "bold", "fontSize": 13},
    "encoding": {
     "x": {"field": "x", "type": "quantitative", "scale": {"domain": [0, 1], "nice": false, "zero": false}, "axis": null},
     "y": {"field": "y", "type": "quantitative", "scale": {"domain": [-1, 1.5], "nice": false, "zero": false},
       "axis": {"orient": "right", "values": [-1,-0.9,-0.8,-0.7,-0.6,-0.5,-0.4,-0.3,-0.2,-0.1,0,0.1,0.2,0.3,0.4,0.5,0.6,0.7,0.8,0.9,1,1.1,1.2,1.3,1.4,1.5], "tickSize": {"condition": {"test": "datum.value % 0.5 === 0", "value": -12}, "value": -7}, "tickWidth": {"condition": {"test": "datum.value % 0.5 === 0", "value": 2}, "value": 1.5}, "labels": false, "title": null}},
     "text": {"field": "t"}
    }},
   {"data": {"name": "leg"}, "transform": [{"filter": "datum.p === 'a2'"}],
    "mark": {"type": "rule", "strokeWidth": 3},
    "encoding": {
     "x": {"field": "x", "type": "quantitative", "scale": {"domain": [0, 1], "nice": false, "zero": false}, "axis": null},
     "x2": {"field": "x2"},
     "y": {"field": "y", "type": "quantitative", "scale": {"domain": [-1, 1.5], "nice": false, "zero": false}, "axis": null},
     "color": {"field": "s", "type": "nominal", "scale": {"domain": ["1.0","0.0","-0.5","-1.0","-2.0"], "range": ["#CC0000","#00CC00","#3333FF","#00FFFF","#FFFF00"]}, "legend": null},
     "strokeDash": {"field": "s", "type": "nominal", "scale": {"domain": ["1.0","0.0","-0.5","-1.0","-2.0"], "range": [[1,0],[14,7],[14,6,3,6],[22,7],[11,10]]}, "legend": null}
    }},
   {"data": {"name": "leg"}, "transform": [{"filter": "datum.p === 'a2'"}],
    "mark": {"type": "text", "font": "Liberation Sans", "fontWeight": "bold", "fontSize": 14, "align": "left", "baseline": "middle"},
    "encoding": {
     "x": {"field": "tx", "type": "quantitative", "scale": {"domain": [0, 1], "nice": false, "zero": false}, "axis": null},
     "y": {"field": "y", "type": "quantitative", "scale": {"domain": [-1, 1.5], "nice": false, "zero": false}, "axis": null},
     "text": {"value": "R"}
    }},
   {"data": {"name": "leg"}, "transform": [{"filter": "datum.p === 'a2'"}],
    "mark": {"type": "text", "font": "Liberation Sans", "fontWeight": "bold", "fontSize": 11, "align": "left", "baseline": "middle", "dx": 12, "dy": 5},
    "encoding": {
     "x": {"field": "tx", "type": "quantitative", "scale": {"domain": [0, 1], "nice": false, "zero": false}, "axis": null},
     "y": {"field": "y", "type": "quantitative", "scale": {"domain": [-1, 1.5], "nice": false, "zero": false}, "axis": null},
     "text": {"value": "T"}
    }},
   {"data": {"name": "leg"}, "transform": [{"filter": "datum.p === 'a2'"}],
    "mark": {"type": "text", "font": "Liberation Sans", "fontWeight": "bold", "fontSize": 14, "align": "left", "baseline": "middle", "dx": 23},
    "encoding": {
     "x": {"field": "tx", "type": "quantitative", "scale": {"domain": [0, 1], "nice": false, "zero": false}, "axis": null},
     "y": {"field": "y", "type": "quantitative", "scale": {"domain": [-1, 1.5], "nice": false, "zero": false}, "axis": null},
     "text": {"field": "v"}
    }}
  ]},
 {"width": 530, "height": 387,
  "resolve": {"axis": {"x": "independent", "y": "independent"}},
  "layer": [
   {"data": {"name": "curves"}, "transform": [{"filter": "datum.p === 'a3'"}],
    "mark": {"type": "line", "clip": true, "strokeWidth": 3, "interpolate": "monotone"},
    "encoding": {
     "x": {"field": "x", "type": "quantitative", "scale": {"domain": [0, 1], "nice": false, "zero": false},
       "axis": {"orient": "bottom", "values": [0,0.05,0.1,0.15,0.2,0.25,0.3,0.35,0.4,0.45,0.5,0.55,0.6,0.65,0.7,0.75,0.8,0.85,0.9,0.95,1], "tickSize": {"condition": {"test": "datum.value % 0.25 === 0", "value": -12}, "value": -7}, "tickWidth": {"condition": {"test": "datum.value % 0.25 === 0", "value": 2}, "value": 1.5}, "labelExpr": "datum.value % 0.25 === 0 ? '' + datum.value : ''", "labelPadding": 15, "title": "X", "titleX": 265, "titleY": 23, "titleBaseline": "middle", "titleFontSize": 16}},
     "y": {"field": "y", "type": "quantitative", "scale": {"domain": [-1, 1.5], "nice": false, "zero": false},
       "axis": {"orient": "left", "values": [-1,-0.9,-0.8,-0.7,-0.6,-0.5,-0.4,-0.3,-0.2,-0.1,0,0.1,0.2,0.3,0.4,0.5,0.6,0.7,0.8,0.9,1,1.1,1.2,1.3,1.4,1.5], "tickSize": {"condition": {"test": "datum.value % 0.5 === 0", "value": -12}, "value": -7}, "tickWidth": {"condition": {"test": "datum.value % 0.5 === 0", "value": 2}, "value": 1.5}, "labelExpr": "datum.value % 0.5 === 0 ? '' + datum.value : ''", "labelPadding": 22, "title": "V", "titleX": -49, "titleY": 194, "titleBaseline": "middle"}},
     "color": {"field": "s", "type": "nominal", "scale": {"domain": ["1.0","0.0","-0.5","-1.0","-2.0"], "range": ["#CC0000","#00CC00","#3333FF","#00FFFF","#FFFF00"]}, "legend": null},
     "strokeDash": {"field": "s", "type": "nominal", "scale": {"domain": ["1.0","0.0","-0.5","-1.0","-2.0"], "range": [[1,0],[14,7],[14,6,3,6],[22,7],[11,10]]}, "legend": null}
    }},
   {"data": {"name": "notes"}, "transform": [{"filter": "datum.p === 'a3' && datum.k === 'tag'"}],
    "mark": {"type": "text", "font": "Liberation Sans", "fontWeight": "bold", "fontSize": 13},
    "encoding": {
     "x": {"field": "x", "type": "quantitative", "scale": {"domain": [0, 1], "nice": false, "zero": false}, "axis": null},
     "y": {"field": "y", "type": "quantitative", "scale": {"domain": [-1, 1.5], "nice": false, "zero": false},
       "axis": {"orient": "right", "values": [-1,-0.9,-0.8,-0.7,-0.6,-0.5,-0.4,-0.3,-0.2,-0.1,0,0.1,0.2,0.3,0.4,0.5,0.6,0.7,0.8,0.9,1,1.1,1.2,1.3,1.4,1.5], "tickSize": {"condition": {"test": "datum.value % 0.5 === 0", "value": -12}, "value": -7}, "tickWidth": {"condition": {"test": "datum.value % 0.5 === 0", "value": 2}, "value": 1.5}, "labels": false, "title": null}},
     "text": {"field": "t"}
    }}
  ]}
 ], "spacing": 0, "bounds": "flush"},
{"vconcat": [
 {"width": 500, "height": 388,
  "resolve": {"axis": {"x": "independent", "y": "independent"}},
  "layer": [
   {"data": {"name": "curves"}, "transform": [{"filter": "datum.p === 'b1'"}],
    "mark": {"type": "line", "clip": true, "strokeWidth": 3, "interpolate": "monotone"},
    "encoding": {
     "x": {"field": "x", "type": "quantitative", "scale": {"domain": [0, 0.97847], "nice": false, "zero": false},
       "axis": {"orient": "top", "values": [0,0.05,0.1,0.15,0.2,0.25,0.3,0.35,0.4,0.45,0.5,0.55,0.6,0.65,0.7,0.75,0.8,0.85,0.9,0.95], "tickSize": {"condition": {"test": "datum.value % 0.25 === 0", "value": -12}, "value": -7}, "tickWidth": {"condition": {"test": "datum.value % 0.25 === 0", "value": 2}, "value": 1.5}, "labels": false, "title": null}},
     "y": {"field": "y", "type": "quantitative", "scale": {"domain": [-2, 1], "nice": false, "zero": false},
       "axis": {"orient": "left", "values": [-2,-1.9,-1.8,-1.7,-1.6,-1.5,-1.4,-1.3,-1.2,-1.1,-1,-0.9,-0.8,-0.7,-0.6,-0.5,-0.4,-0.3,-0.2,-0.1,0,0.1,0.2,0.3,0.4,0.5,0.6,0.7,0.8,0.9,1], "tickSize": {"condition": {"test": "datum.value % 0.5 === 0", "value": -12}, "value": -7}, "tickWidth": {"condition": {"test": "datum.value % 0.5 === 0", "value": 2}, "value": 1.5}, "labelExpr": "datum.value % 0.5 === 0 ? '' + datum.value : ''", "labelPadding": 22, "title": "θ", "titleX": -49, "titleY": 194, "titleBaseline": "middle", "titleFont": "Liberation Serif", "titleFontWeight": "normal", "titleFontSize": 21}},
     "color": {"field": "s", "type": "nominal", "scale": {"domain": ["1.0","0.0","-0.5","-1.0","-2.0"], "range": ["#CC0000","#00CC00","#3333FF","#00FFFF","#FFFF00"]}, "legend": null},
     "strokeDash": {"field": "s", "type": "nominal", "scale": {"domain": ["1.0","0.0","-0.5","-1.0","-2.0"], "range": [[1,0],[14,7],[14,6,3,6],[22,7],[11,10]]}, "legend": null}
    }},
   {"data": {"name": "notes"}, "transform": [{"filter": "datum.p === 'b1' && datum.k === 'tag'"}],
    "mark": {"type": "text", "font": "Liberation Sans", "fontWeight": "bold", "fontSize": 13},
    "encoding": {
     "x": {"field": "x", "type": "quantitative", "scale": {"domain": [0, 0.97847], "nice": false, "zero": false}, "axis": null},
     "y": {"field": "y", "type": "quantitative", "scale": {"domain": [-2, 1], "nice": false, "zero": false},
       "axis": {"orient": "right", "domain": false, "values": [-2,-1.5,-1,-0.5,0,0.5,1], "tickSize": -5, "tickWidth": 2, "labels": false, "title": null}},
     "text": {"field": "t"}
    }},
   {"data": {"name": "notes"}, "transform": [{"filter": "datum.p === 'b1' && datum.k === 'serif'"}],
    "mark": {"type": "text", "font": "Liberation Serif", "fontSize": 29},
    "encoding": {
     "x": {"field": "x", "type": "quantitative", "scale": {"domain": [0, 0.97847], "nice": false, "zero": false}, "axis": null},
     "y": {"field": "y", "type": "quantitative", "scale": {"domain": [-2, 1], "nice": false, "zero": false}, "axis": null},
     "text": {"field": "t"}
    }}
  ]},
 {"width": 500, "height": 388,
  "resolve": {"axis": {"x": "independent", "y": "independent"}},
  "layer": [
   {"data": {"name": "curves"}, "transform": [{"filter": "datum.p === 'b2'"}],
    "mark": {"type": "line", "clip": true, "strokeWidth": 3, "interpolate": "monotone"},
    "encoding": {
     "x": {"field": "x", "type": "quantitative", "scale": {"domain": [0, 0.97847], "nice": false, "zero": false}, "axis": null},
     "y": {"field": "y", "type": "quantitative", "scale": {"domain": [-2, 1], "nice": false, "zero": false},
       "axis": {"orient": "left", "values": [-2,-1.9,-1.8,-1.7,-1.6,-1.5,-1.4,-1.3,-1.2,-1.1,-1,-0.9,-0.8,-0.7,-0.6,-0.5,-0.4,-0.3,-0.2,-0.1,0,0.1,0.2,0.3,0.4,0.5,0.6,0.7,0.8,0.9,1], "tickSize": {"condition": {"test": "datum.value % 0.5 === 0", "value": -12}, "value": -7}, "tickWidth": {"condition": {"test": "datum.value % 0.5 === 0", "value": 2}, "value": 1.5}, "labelExpr": "datum.value % 0.5 === 0 ? '' + datum.value : ''", "labelPadding": 22, "title": "θ", "titleX": -49, "titleY": 194, "titleBaseline": "middle", "titleFont": "Liberation Serif", "titleFontWeight": "normal", "titleFontSize": 21}},
     "color": {"field": "s", "type": "nominal", "scale": {"domain": ["1.0","0.0","-0.5","-1.0","-2.0"], "range": ["#CC0000","#00CC00","#3333FF","#00FFFF","#FFFF00"]}, "legend": null},
     "strokeDash": {"field": "s", "type": "nominal", "scale": {"domain": ["1.0","0.0","-0.5","-1.0","-2.0"], "range": [[1,0],[14,7],[14,6,3,6],[22,7],[11,10]]}, "legend": null}
    }},
   {"data": {"name": "notes"}, "transform": [{"filter": "datum.p === 'b2' && datum.k === 'tag'"}],
    "mark": {"type": "text", "font": "Liberation Sans", "fontWeight": "bold", "fontSize": 13},
    "encoding": {
     "x": {"field": "x", "type": "quantitative", "scale": {"domain": [0, 0.97847], "nice": false, "zero": false}, "axis": null},
     "y": {"field": "y", "type": "quantitative", "scale": {"domain": [-2, 1], "nice": false, "zero": false},
       "axis": {"orient": "right", "domain": false, "values": [-2,-1.5,-1,-0.5,0,0.5,1], "tickSize": -5, "tickWidth": 2, "labels": false, "title": null}},
     "text": {"field": "t"}
    }},
   {"data": {"name": "leg"}, "transform": [{"filter": "datum.p === 'b2'"}],
    "mark": {"type": "rule", "strokeWidth": 3},
    "encoding": {
     "x": {"field": "x", "type": "quantitative", "scale": {"domain": [0, 0.97847], "nice": false, "zero": false}, "axis": null},
     "x2": {"field": "x2"},
     "y": {"field": "y", "type": "quantitative", "scale": {"domain": [-2, 1], "nice": false, "zero": false}, "axis": null},
     "color": {"field": "s", "type": "nominal", "scale": {"domain": ["1.0","0.0","-0.5","-1.0","-2.0"], "range": ["#CC0000","#00CC00","#3333FF","#00FFFF","#FFFF00"]}, "legend": null},
     "strokeDash": {"field": "s", "type": "nominal", "scale": {"domain": ["1.0","0.0","-0.5","-1.0","-2.0"], "range": [[1,0],[14,7],[14,6,3,6],[22,7],[11,10]]}, "legend": null}
    }},
   {"data": {"name": "leg"}, "transform": [{"filter": "datum.p === 'b2'"}],
    "mark": {"type": "text", "font": "Liberation Sans", "fontWeight": "bold", "fontSize": 14, "align": "left", "baseline": "middle"},
    "encoding": {
     "x": {"field": "tx", "type": "quantitative", "scale": {"domain": [0, 0.97847], "nice": false, "zero": false}, "axis": null},
     "y": {"field": "y", "type": "quantitative", "scale": {"domain": [-2, 1], "nice": false, "zero": false}, "axis": null},
     "text": {"value": "R"}
    }},
   {"data": {"name": "leg"}, "transform": [{"filter": "datum.p === 'b2'"}],
    "mark": {"type": "text", "font": "Liberation Sans", "fontWeight": "bold", "fontSize": 11, "align": "left", "baseline": "middle", "dx": 12, "dy": 5},
    "encoding": {
     "x": {"field": "tx", "type": "quantitative", "scale": {"domain": [0, 0.97847], "nice": false, "zero": false}, "axis": null},
     "y": {"field": "y", "type": "quantitative", "scale": {"domain": [-2, 1], "nice": false, "zero": false}, "axis": null},
     "text": {"value": "T"}
    }},
   {"data": {"name": "leg"}, "transform": [{"filter": "datum.p === 'b2'"}],
    "mark": {"type": "text", "font": "Liberation Sans", "fontWeight": "bold", "fontSize": 14, "align": "left", "baseline": "middle", "dx": 23},
    "encoding": {
     "x": {"field": "tx", "type": "quantitative", "scale": {"domain": [0, 0.97847], "nice": false, "zero": false}, "axis": null},
     "y": {"field": "y", "type": "quantitative", "scale": {"domain": [-2, 1], "nice": false, "zero": false}, "axis": null},
     "text": {"field": "v"}
    }}
  ]},
 {"width": 500, "height": 387,
  "resolve": {"axis": {"x": "independent", "y": "independent"}},
  "layer": [
   {"data": {"name": "curves"}, "transform": [{"filter": "datum.p === 'b3'"}],
    "mark": {"type": "line", "clip": true, "strokeWidth": 3, "interpolate": "monotone"},
    "encoding": {
     "x": {"field": "x", "type": "quantitative", "scale": {"domain": [0, 0.97847], "nice": false, "zero": false},
       "axis": {"orient": "bottom", "values": [0,0.05,0.1,0.15,0.2,0.25,0.3,0.35,0.4,0.45,0.5,0.55,0.6,0.65,0.7,0.75,0.8,0.85,0.9,0.95], "tickSize": {"condition": {"test": "datum.value % 0.25 === 0", "value": -12}, "value": -7}, "tickWidth": {"condition": {"test": "datum.value % 0.25 === 0", "value": 2}, "value": 1.5}, "labelExpr": "datum.value % 0.25 === 0 ? '' + datum.value : ''", "labelPadding": 15, "title": "X", "titleX": 255, "titleY": 23, "titleBaseline": "middle", "titleFontSize": 16}},
     "y": {"field": "y", "type": "quantitative", "scale": {"domain": [-2, 1], "nice": false, "zero": false},
       "axis": {"orient": "left", "values": [-2,-1.9,-1.8,-1.7,-1.6,-1.5,-1.4,-1.3,-1.2,-1.1,-1,-0.9,-0.8,-0.7,-0.6,-0.5,-0.4,-0.3,-0.2,-0.1,0,0.1,0.2,0.3,0.4,0.5,0.6,0.7,0.8,0.9,1], "tickSize": {"condition": {"test": "datum.value % 0.5 === 0", "value": -12}, "value": -7}, "tickWidth": {"condition": {"test": "datum.value % 0.5 === 0", "value": 2}, "value": 1.5}, "labelExpr": "datum.value % 0.5 === 0 ? '' + datum.value : ''", "labelPadding": 22, "title": "θ", "titleX": -49, "titleY": 194, "titleBaseline": "middle", "titleFont": "Liberation Serif", "titleFontWeight": "normal", "titleFontSize": 21}},
     "color": {"field": "s", "type": "nominal", "scale": {"domain": ["1.0","0.0","-0.5","-1.0","-2.0"], "range": ["#CC0000","#00CC00","#3333FF","#00FFFF","#FFFF00"]}, "legend": null},
     "strokeDash": {"field": "s", "type": "nominal", "scale": {"domain": ["1.0","0.0","-0.5","-1.0","-2.0"], "range": [[1,0],[14,7],[14,6,3,6],[22,7],[11,10]]}, "legend": null}
    }},
   {"data": {"name": "notes"}, "transform": [{"filter": "datum.p === 'b3' && datum.k === 'tag'"}],
    "mark": {"type": "text", "font": "Liberation Sans", "fontWeight": "bold", "fontSize": 13},
    "encoding": {
     "x": {"field": "x", "type": "quantitative", "scale": {"domain": [0, 0.97847], "nice": false, "zero": false}, "axis": null},
     "y": {"field": "y", "type": "quantitative", "scale": {"domain": [-2, 1], "nice": false, "zero": false},
       "axis": {"orient": "right", "domain": false, "values": [-2,-1.5,-1,-0.5,0,0.5,1], "tickSize": -5, "tickWidth": 2, "labels": false, "title": null}},
     "text": {"field": "t"}
    }}
  ]}
 ], "spacing": 0, "bounds": "flush"}
]
}
